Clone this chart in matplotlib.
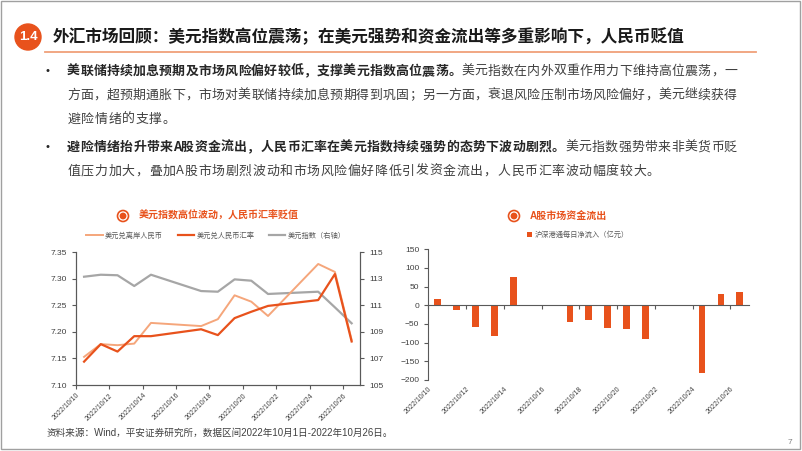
import matplotlib
matplotlib.use('Agg')
import matplotlib.pyplot as plt
from matplotlib.patches import Circle, Rectangle
import numpy as np
import pandas as pd

plt.rcParams['font.family'] = ['Liberation Sans', 'Noto Sans CJK SC']

# ---- data ----
trade_dates = ['2022-10-10', '2022-10-11', '2022-10-12', '2022-10-13', '2022-10-14',
               '2022-10-17', '2022-10-18', '2022-10-19', '2022-10-20', '2022-10-21',
               '2022-10-24', '2022-10-25', '2022-10-26']
usd_cnh = [7.153, 7.177, 7.175, 7.178, 7.217, 7.211, 7.224, 7.269, 7.257, 7.230, 7.328, 7.313, 7.185]
usd_cny = [7.144, 7.177, 7.163, 7.192, 7.192, 7.205, 7.194, 7.226, 7.238, 7.249, 7.260, 7.309, 7.182]
dxy = [113.16, 113.31, 113.27, 112.46, 113.31, 112.08, 112.03, 112.96, 112.86, 111.86, 112.03, 110.85, 109.65]
net_inflow = [16, -12, -59, -82, 76, -44, -38, -61, -63, -89, -181, 30, 36]

start_day = '2022-10-10'
end_day = '2022-10-26'

ORANGE = '#E8521C'
LIGHT = '#F5A67B'
GRAY = '#A6A6A6'
AXC = '#595959'
TXT = '#404040'
CJK = ['Noto Sans CJK SC', 'DejaVu Sans']

d = pd.to_datetime(trade_dates)
xpos = (d - pd.Timestamp(start_day)).days.values
tick_days = pd.date_range(start_day, end_day, freq='2D')
tick_pos = (tick_days - pd.Timestamp(start_day)).days.values - 0.5
tick_lab = [t.strftime('%Y/%m/%d') for t in tick_days]
ndays = (pd.Timestamp(end_day) - pd.Timestamp(start_day)).days + 1

W, H = 802, 451
fig = plt.figure(figsize=(W / 100, H / 100), dpi=100)

# background layer in pixel coords
bg = fig.add_axes([0, 0, 1, 1])
bg.set_xlim(0, W)
bg.set_ylim(H, 0)
bg.axis('off')

bg.add_patch(Rectangle((1, 1), W - 3, H - 3, fill=False, ec='#A0A0A0', lw=1))
bg.add_patch(Circle((28, 37), 13, color=ORANGE))
bg.text(28, 37.5, '1.4', color='white', fontsize=9.5, fontweight='bold', ha='center', va='center')
bg.text(53, 37, '外汇市场回顾：美元指数高位震荡；在美元强势和资金流出等多重影响下，人民币贬值',
        fontsize=12, fontweight='bold', ha='left', va='center', color='#1a1a1a', family=CJK)
bg.plot([45, 756], [52, 52], color='#F0A07A', lw=1.3)


def draw_line(x0, y, text, nbold, x1=None, step=13.4, size=9.3):
    weights = [0.6 if ord(c) < 256 else 1.0 for c in text]
    if x1 is not None:
        step = (x1 - x0) / sum(weights)
    x = x0
    for i, c in enumerate(text):
        bold = i < nbold
        bg.text(x + weights[i] * step / 2, y, c, ha='center', va='center', fontsize=size,
                fontweight='bold' if bold else 'normal', color='#262626' if bold else TXT,
                family=CJK)
        x += weights[i] * step


bold1 = '美联储持续加息预期及市场风险偏好较低，支撑美元指数高位震荡。'
para1 = ['美联储持续加息预期及市场风险偏好较低，支撑美元指数高位震荡。美元指数在内外双重作用力下维持高位震荡，一',
         '方面，超预期通胀下，市场对美联储持续加息预期得到巩固；另一方面，衰退风险压制市场风险偏好，美元继续获得',
         '避险情绪的支撑。']
bold2 = '避险情绪抬升带来A股资金流出，人民币汇率在美元指数持续强势的态势下波动剧烈。'
para2 = ['避险情绪抬升带来A股资金流出，人民币汇率在美元指数持续强势的态势下波动剧烈。美元指数强势带来非美货币贬',
         '值压力加大，叠加A股市场剧烈波动和市场风险偏好降低引发资金流出，人民币汇率波动幅度较大。']

for para, bold, ys in [(para1, bold1, [71, 95, 119]), (para2, bold2, [147, 171])]:
    bg.text(48, ys[0], '•', fontsize=8, ha='center', va='center', color='#262626')
    for k, (line, y) in enumerate(zip(para, ys)):
        nb = len(bold) if k == 0 else 0
        justify = 737 if k < len(para) - 1 else None
        draw_line(67, y, line, nb, x1=justify, step=13.6)

# chart titles with icon
for cx, cy, title in [(123, 216, '美元指数高位波动，人民币汇率贬值'), (514, 216, 'A股市场资金流出')]:
    bg.add_patch(Circle((cx, cy), 5.5, fill=False, ec=ORANGE, lw=1.2))
    bg.add_patch(Circle((cx, cy), 2.7, color=ORANGE))
    bg.text(cx + 16, cy, title, fontsize=7.2, color=ORANGE, ha='left', va='center',
            fontweight='bold', family=['Liberation Sans', 'Noto Sans CJK SC'])

bg.text(47, 433, '资料来源：Wind，平安证券研究所，数据区间2022年10月1日-2022年10月26日。',
        fontsize=6.9, color=TXT, ha='left', va='center')
bg.text(790, 442, '7', fontsize=6, color='#808080', ha='center', va='center')


def style_ax(ax):
    for s in ['left', 'right', 'bottom', 'top']:
        ax.spines[s].set_color(AXC)
        ax.spines[s].set_linewidth(0.8)
    ax.tick_params(colors=AXC, labelcolor=TXT, labelsize=6, length=3, width=0.8)


# ---- left chart: FX ----
ax1 = fig.add_axes([75.7 / W, 1 - 385 / H, 284.3 / W, 132.7 / H])
ax1.patch.set_alpha(0)
style_ax(ax1)
ax1.spines['top'].set_visible(False)
ax1.plot(xpos, usd_cnh, color=LIGHT, lw=1.4, label='美元兑离岸人民币', zorder=2)
ax1.plot(xpos, usd_cny, color=ORANGE, lw=1.6, label='美元兑人民币汇率', zorder=3)
ax1.set_xlim(-0.5, ndays - 0.5)
ax1.set_ylim(7.10, 7.35)
ax1.set_yticks(np.arange(7.10, 7.351, 0.05))
ax1.yaxis.set_major_formatter(matplotlib.ticker.FormatStrFormatter('%.2f'))
ax1.set_xticks(tick_pos)
ax1.set_xticklabels(tick_lab, rotation=45, ha='right', rotation_mode='anchor')
ax1.tick_params(axis='x', labelsize=5.0, pad=2)

ax2 = ax1.twinx()
style_ax(ax2)
ax2.spines['top'].set_visible(False)
ax2.plot(xpos, dxy, color=GRAY, lw=1.6, label='美元指数（右轴）', zorder=1)
ax2.set_ylim(105, 115)
ax2.set_yticks(np.arange(105, 115.1, 2))
ax1.set_zorder(ax2.get_zorder() + 1)

h1, l1 = ax1.get_legend_handles_labels()
h2, l2 = ax2.get_legend_handles_labels()
fig.legend(h1 + h2, l1 + l2, loc='center', bbox_to_anchor=(216 / W, 1 - 236 / H), ncol=3,
           frameon=False, prop={'family': CJK, 'size': 5.2}, labelcolor='#595959',
           handlelength=2.3, handletextpad=0.3, columnspacing=2.0)

# ---- right chart: net inflow ----
ax3 = fig.add_axes([428.3 / W, 1 - 380 / H, 321 / W, 130.7 / H])
ax3.patch.set_alpha(0)
style_ax(ax3)
ax3.bar(xpos, net_inflow, width=0.36, color=ORANGE, label='沪深港通每日净流入（亿元）')
ax3.set_xlim(-0.5, ndays - 0.5)
ax3.set_ylim(-200, 150)
ax3.set_yticks(np.arange(-200, 151, 50))
ax3.spines['top'].set_visible(False)
ax3.spines['right'].set_visible(False)
ax3.spines['bottom'].set_position(('data', 0))
ax3.set_xticks(tick_pos)
ax3.tick_params(axis='x', labelbottom=False)
sec = ax3.secondary_xaxis('bottom')
sec.set_xticks(tick_pos)
sec.set_xticklabels(tick_lab, rotation=45, ha='right', rotation_mode='anchor')
sec.tick_params(length=0, labelsize=5.0, labelcolor=TXT, pad=4)
sec.spines['bottom'].set_visible(False)

h3, l3 = ax3.get_legend_handles_labels()
fig.legend(h3, l3, loc='center', bbox_to_anchor=(578 / W, 1 - 235 / H), frameon=False,
           prop={'family': CJK, 'size': 5.2}, labelcolor='#595959',
           handlelength=0.7, handleheight=0.7, handletextpad=0.4)

fig.savefig('out.png', dpi=100)
